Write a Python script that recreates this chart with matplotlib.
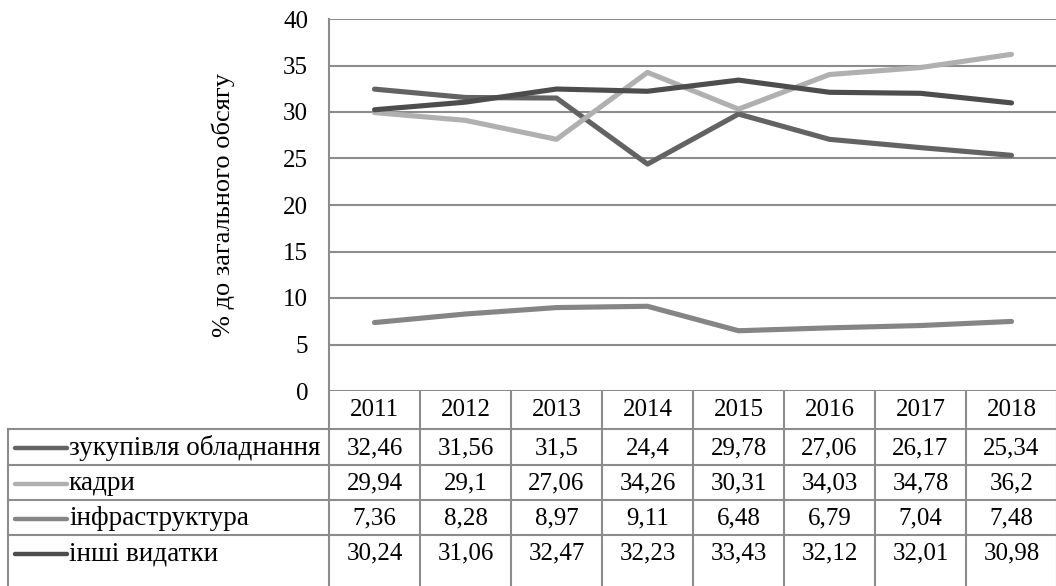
import matplotlib
matplotlib.use('Agg')
import matplotlib.pyplot as plt
from matplotlib.transforms import blended_transform_factory
from matplotlib.lines import Line2D

plt.rcParams['font.family'] = ['Liberation Serif', 'DejaVu Serif']

years = ['2011', '2012', '2013', '2014', '2015', '2016', '2017', '2018']
names = ['зукупівля обладнання', 'кадри', 'інфраструктура', 'інші видатки']
zakupivlia = [32.46, 31.56, 31.5, 24.4, 29.78, 27.06, 26.17, 25.34]
kadry = [29.94, 29.1, 27.06, 34.26, 30.31, 34.03, 34.78, 36.2]
infra = [7.36, 8.28, 8.97, 9.11, 6.48, 6.79, 7.04, 7.48]
inshi = [30.24, 31.06, 32.47, 32.23, 33.43, 32.12, 32.01, 30.98]
series = [zakupivlia, kadry, infra, inshi]
colors = ['#636363', '#b0b0b0', '#858585', '#4d4d4d']

W, H = 1056, 586
grid_c = '#8c8c8c'
fs = 18

fig = plt.figure(figsize=(W / 100, H / 100), dpi=100)
# axes in pixel geometry
x0, x1, y_top, y_bot = 329, 1057, 19, 391
ax = fig.add_axes([x0 / W, 1 - y_bot / H, (x1 - x0) / W, (y_bot - y_top) / H])

xs = list(range(len(years)))
for vals, c in zip(series, colors):
    ax.plot(xs, vals, color=c, lw=3.7, solid_capstyle='round', solid_joinstyle='round', zorder=3)

ax.set_xlim(-0.5, len(years) - 0.5)
ax.set_ylim(0, 40)
ax.set_yticks(range(0, 41, 5))
ax.yaxis.grid(True, color=grid_c, lw=1.5)
ax.set_axisbelow(True)
ax.set_xticks([])
ax.tick_params(axis='y', length=0, pad=15, labelsize=fs)
for s in ['top', 'right', 'bottom']:
    ax.spines[s].set_visible(False)
ax.spines['left'].set_color(grid_c)
ax.spines['left'].set_linewidth(1.5)
ax.set_ylabel('% до загального обсягу', fontsize=19, labelpad=35)


def fy(ypix):
    return 1 - ypix / H


# data table drawn under the axes
tr = blended_transform_factory(ax.transData, fig.transFigure)
row_edges = [391, 429, 465, 500, 535, 570]
left_pix = 8

# vertical separators
for k in range(len(years) + 1):
    fig.add_artist(Line2D([k - 0.5, k - 0.5], [fy(391), fy(590)], transform=tr,
                          color=grid_c, lw=1.5))
fig.add_artist(Line2D([left_pix / W, left_pix / W], [fy(429), fy(590)],
                      transform=fig.transFigure, color=grid_c, lw=1.5))
# horizontal separators
for ye in row_edges[1:-1]:
    fig.add_artist(Line2D([left_pix / W, 1], [fy(ye), fy(ye)],
                          transform=fig.transFigure, color=grid_c, lw=1.5))

# header row with years
for i, yr in enumerate(years):
    fig.text(i, fy((row_edges[0] + row_edges[1]) / 2), yr, transform=tr,
             ha='center', va='center', fontsize=fs)

for r, (nm, vals, c) in enumerate(zip(names, series, colors)):
    yc = fy((row_edges[r + 1] + row_edges[r + 2]) / 2 + 1)
    fig.add_artist(Line2D([15 / W, 67 / W], [yc, yc], transform=fig.transFigure,
                          color=c, lw=3.2, solid_capstyle='round'))
    fig.text(69 / W, yc, nm, ha='left', va='center', fontsize=19.5)
    for i, v in enumerate(vals):
        fig.text(i, yc, ('%g' % v).replace('.', ','), transform=tr,
                 ha='center', va='center', fontsize=fs)

fig.savefig('out.png', dpi=100)
